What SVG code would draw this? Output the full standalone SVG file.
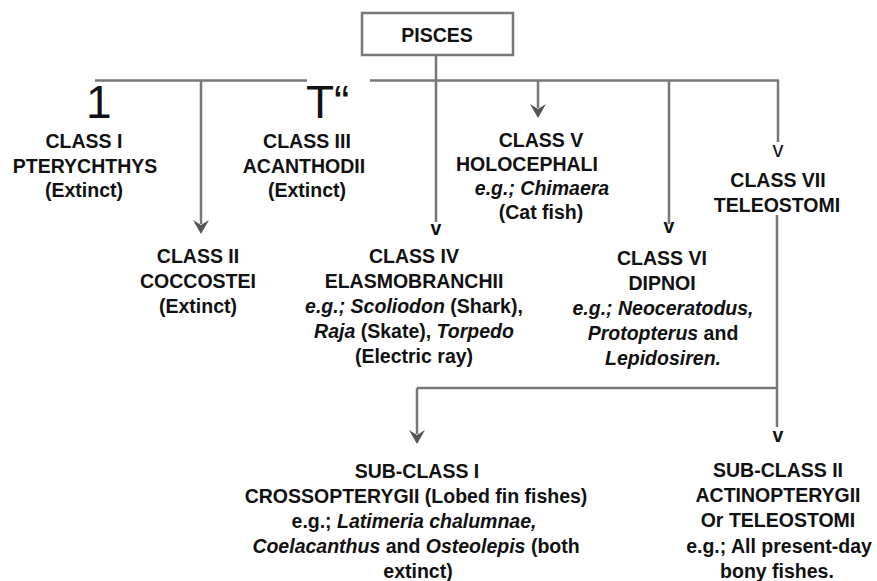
<svg xmlns="http://www.w3.org/2000/svg" width="877" height="581" viewBox="0 0 877 581">
<defs>
<marker id="ah" markerUnits="userSpaceOnUse" markerWidth="16" markerHeight="16" refX="8" refY="13" orient="auto-start-reverse" viewBox="0 0 16 16">
<path d="M1,3 L8,13 L15,3 L8,7 Z" fill="#555" transform="rotate(-90 8 8)"/>
</marker>
<style>
.t{font-family:"Liberation Sans",Arial,sans-serif;font-size:19.5px;font-weight:bold;fill:#111;text-anchor:middle}
.i{font-style:italic}
.n{font-weight:normal}
.big{font-family:"Liberation Sans",Arial,sans-serif;font-size:46px;fill:#111}
.c{fill:none;stroke:#777;stroke-width:2.5}
</style>
</defs>
<g id="connectors">
<line class="c" x1="95" y1="80.5" x2="307" y2="80.5"/>
<line class="c" x1="370" y1="80.5" x2="779" y2="80.5"/>
<line class="c" x1="436" y1="55" x2="436" y2="222"/>
<line class="c" x1="201" y1="80" x2="201" y2="224"/>
<path d="M193,220 L201,234 L209,220 L201,225 Z" fill="#555"/>
<line class="c" x1="538" y1="80" x2="538" y2="108"/>
<path d="M530,104 L538,118 L546,104 L538,109 Z" fill="#555"/>
<line class="c" x1="669" y1="80" x2="669" y2="224"/>
<line class="c" x1="778" y1="80" x2="778" y2="142"/>
<line class="c" x1="777" y1="215" x2="777" y2="427"/>
<line class="c" x1="417" y1="388" x2="778" y2="388"/>
<line class="c" x1="417" y1="388" x2="417" y2="434"/>
<path d="M409,430 L417,444 L425,430 L417,435 Z" fill="#555"/>
<text class="t" x="436" y="235">v</text>
<text class="t" x="669" y="233">v</text>
<text class="t n" x="778" y="157" style="font-size:22px">v</text>
<text class="t" x="778" y="442">v</text>
<text class="big" x="86" y="118">1</text>
<text class="big" x="306" y="118">T“</text>
</g>
<g id="pisces">
<rect x="362" y="13" width="151" height="42" fill="#fff" stroke="#777" stroke-width="2.5"/>
<text class="t" x="437" y="42">PISCES</text>
</g>
<g id="class1">
<text class="t" x="84" y="148">CLASS I</text>
<text class="t" x="85" y="173">PTERYCHTHYS</text>
<text class="t" x="84" y="197">(Extinct)</text>
</g>
<g id="class3">
<text class="t" x="307" y="148">CLASS III</text>
<text class="t" x="304" y="173">ACANTHODII</text>
<text class="t" x="307" y="197">(Extinct)</text>
</g>
<g id="class5">
<text class="t" x="541" y="147">CLASS V</text>
<text class="t" x="527" y="171">HOLOCEPHALI</text>
<text class="t i" x="542" y="195">e.g.; Chimaera</text>
<text class="t" x="541" y="219">(Cat fish)</text>
</g>
<g id="class7">
<text class="t" x="778" y="187">CLASS VII</text>
<text class="t" x="777" y="212">TELEOSTOMI</text>
</g>
<g id="class2">
<text class="t" x="198" y="263">CLASS II</text>
<text class="t" x="198" y="288">COCCOSTEI</text>
<text class="t" x="198" y="313">(Extinct)</text>
</g>
<g id="class4">
<text class="t" x="414" y="263">CLASS IV</text>
<text class="t" x="414" y="288">ELASMOBRANCHII</text>
<text class="t" x="414" y="313"><tspan class="i">e.g.; Scoliodon</tspan> (Shark),</text>
<text class="t" x="414" y="338"><tspan class="i">Raja</tspan> (Skate), <tspan class="i">Torpedo</tspan></text>
<text class="t" x="414" y="363">(Electric ray)</text>
</g>
<g id="class6">
<text class="t" x="662" y="265">CLASS VI</text>
<text class="t" x="662" y="290">DIPNOI</text>
<text class="t i" x="663" y="315">e.g.; Neoceratodus,</text>
<text class="t" x="663" y="340"><tspan class="i">Protopterus</tspan> and</text>
<text class="t i" x="663" y="365">Lepidosiren.</text>
</g>
<g id="subclass1">
<text class="t" x="417" y="478">SUB-CLASS I</text>
<text class="t" x="416" y="503">CROSSOPTERYGII (Lobed fin fishes)</text>
<text class="t" x="414" y="528">e.g.; <tspan class="i">Latimeria chalumnae,</tspan></text>
<text class="t" x="416" y="553"><tspan class="i">Coelacanthus</tspan> and <tspan class="i">Osteolepis</tspan> (both</text>
<text class="t" x="418" y="578">extinct)</text>
</g>
<g id="subclass2">
<text class="t" x="778" y="477">SUB-CLASS II</text>
<text class="t" x="778" y="502">ACTINOPTERYGII</text>
<text class="t" x="778" y="527">Or TELEOSTOMI</text>
<text class="t" x="779" y="553">e.g.; All present-day</text>
<text class="t" x="777" y="578">bony fishes.</text>
</g>
</svg>
